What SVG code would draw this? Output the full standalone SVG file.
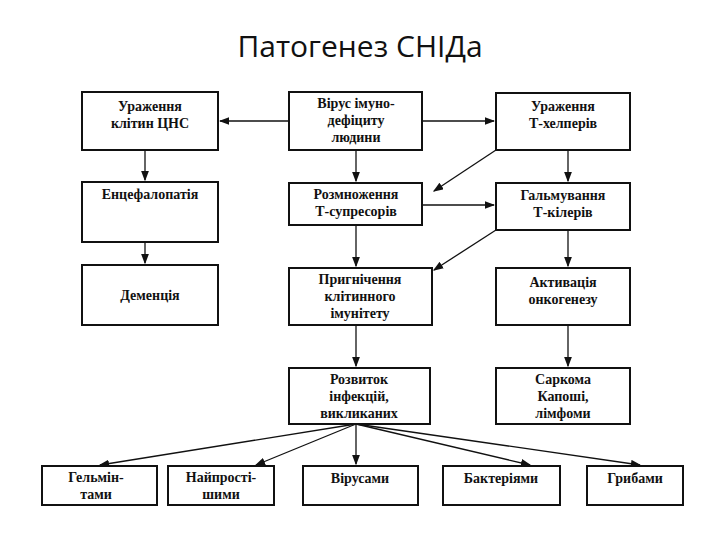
<svg xmlns="http://www.w3.org/2000/svg" width="720" height="540" viewBox="0 0 720 540">
<style>
.b{fill:#fff;stroke:#111;stroke-width:2}
.t{font-family:"Liberation Serif",serif;font-weight:bold;font-size:14px;fill:#111;text-anchor:middle}
.c line{stroke:#111;stroke-width:1.3;marker-end:url(#a)}
</style>
<defs><marker id="a" markerWidth="8" markerHeight="6" refX="7" refY="3" orient="auto"><path d="M0,0L8,3L0,6z" fill="#111"/></marker></defs>
<rect width="720" height="540" fill="#fff"/>
<text x="360" y="57" font-family="Open Sans,sans-serif" font-size="30" text-anchor="middle" fill="#111">Патогенез СНІДа</text>
<g class="c">
<line x1="289" y1="121" x2="220" y2="121"/>
<line x1="422" y1="121" x2="494" y2="121"/>
<line x1="145" y1="150" x2="145" y2="180"/>
<line x1="145" y1="242" x2="145" y2="263"/>
<line x1="356" y1="150" x2="356" y2="181"/>
<line x1="568" y1="150" x2="568" y2="181"/>
<line x1="496" y1="150" x2="434" y2="191"/>
<line x1="422" y1="205" x2="494" y2="205"/>
<line x1="496" y1="230" x2="434" y2="270"/>
<line x1="356" y1="225" x2="356" y2="266"/>
<line x1="568" y1="230" x2="568" y2="266"/>
<line x1="356" y1="325" x2="356" y2="366"/>
<line x1="568" y1="325" x2="568" y2="366"/>
<line x1="356" y1="424" x2="100" y2="465"/>
<line x1="356" y1="424" x2="256" y2="465"/>
<line x1="356" y1="424" x2="356" y2="464"/>
<line x1="356" y1="424" x2="530" y2="465"/>
<line x1="356" y1="424" x2="640" y2="465"/>
</g>
<g id="n1"><rect class="b" x="82" y="92" width="136" height="58"/><text class="t" x="150" y="111">Ураження</text><text class="t" x="150" y="128">клітин ЦНС</text></g>
<g id="n2"><rect class="b" x="289" y="92" width="133" height="58"/><text class="t" x="356" y="108">Вірус імуно-</text><text class="t" x="356" y="125">дефіциту</text><text class="t" x="356" y="142">людини</text></g>
<g id="n3"><rect class="b" x="496" y="93" width="134" height="57"/><text class="t" x="563" y="111">Ураження</text><text class="t" x="563" y="128">Т-хелперів</text></g>
<g id="n4"><rect class="b" x="82" y="182" width="136" height="60"/><text class="t" x="150" y="199">Енцефалопатія</text></g>
<g id="n5"><rect class="b" x="289" y="183" width="133" height="42"/><text class="t" x="356" y="199">Розмноження</text><text class="t" x="356" y="216">Т-супресорів</text></g>
<g id="n6"><rect class="b" x="496" y="183" width="134" height="47"/><text class="t" x="563" y="200">Гальмування</text><text class="t" x="563" y="217">Т-кілерів</text></g>
<g id="n7"><rect class="b" x="82" y="265" width="136" height="60"/><text class="t" x="150" y="300">Деменція</text></g>
<g id="n8"><rect class="b" x="289" y="268" width="143" height="57"/><text class="t" x="360" y="284">Пригнічення</text><text class="t" x="360" y="301">клітинного</text><text class="t" x="360" y="318">імунітету</text></g>
<g id="n9"><rect class="b" x="496" y="268" width="134" height="57"/><text class="t" x="563" y="287">Активація</text><text class="t" x="563" y="304">онкогенезу</text></g>
<g id="n10"><rect class="b" x="289" y="368" width="141" height="56"/><text class="t" x="359" y="384">Розвиток</text><text class="t" x="359" y="401">інфекцій,</text><text class="t" x="359" y="418">викликаних</text></g>
<g id="n11"><rect class="b" x="496" y="368" width="134" height="56"/><text class="t" x="563" y="384">Саркома</text><text class="t" x="563" y="401">Капоші,</text><text class="t" x="563" y="418">лімфоми</text></g>
<g id="n12"><rect class="b" x="42" y="466" width="115" height="39"/><text class="t" x="96" y="482">Гельмін-</text><text class="t" x="96" y="499">тами</text></g>
<g id="n13"><rect class="b" x="168" y="466" width="106" height="39"/><text class="t" x="221" y="482">Найпрості-</text><text class="t" x="221" y="499">шими</text></g>
<g id="n14"><rect class="b" x="303" y="466" width="115" height="39"/><text class="t" x="360" y="483">Вірусами</text></g>
<g id="n15"><rect class="b" x="443" y="466" width="117" height="39"/><text class="t" x="501" y="483">Бактеріями</text></g>
<g id="n16"><rect class="b" x="587" y="466" width="96" height="39"/><text class="t" x="635" y="483">Грибами</text></g>
</svg>
